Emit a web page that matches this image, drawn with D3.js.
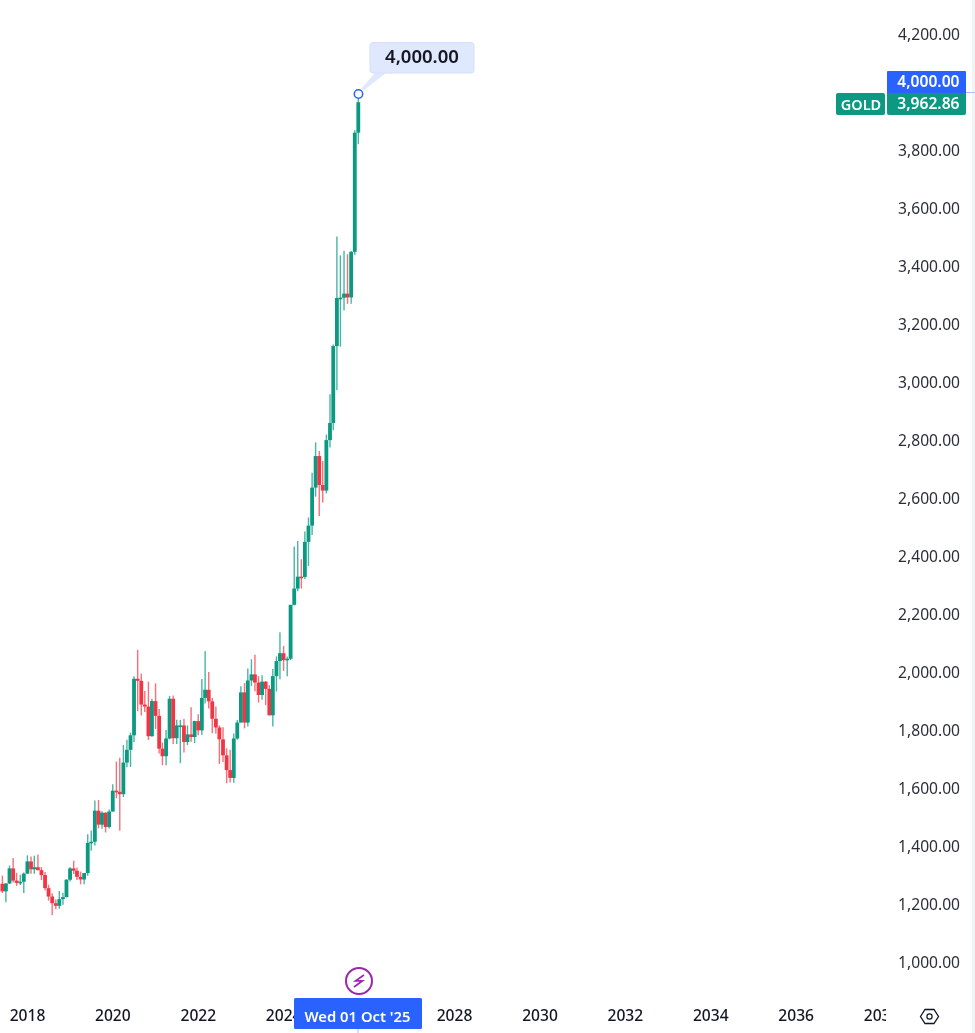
<!DOCTYPE html>
<html><head><meta charset="utf-8">
<script src="https://cdn.jsdelivr.net/npm/d3@7"></script>
<style>html,body{margin:0;padding:0;background:#fff;overflow:hidden}svg{display:block}text{font-family:"Noto Sans",sans-serif}</style>
</head><body><svg id="c" width="975" height="1033"></svg>
<script>
const startMonth = "2017-06";
const opens  = [1268,1242,1269,1321,1279,1271,1275,1303,1345,1318,1325,1315,1298,1253,1224,1201,1192,1215,1222,1282,1321,1313,1292,1283,1305,1409,1413,1520,1472,1513,1464,1517,1589,1585,1577,1686,1730,1780,1975,1968,1886,1879,1777,1898,1847,1734,1708,1769,1906,1770,1814,1814,1757,1783,1774,1829,1797,1909,1937,1897,1837,1807,1766,1711,1660,1633,1769,1824,1928,1824,1969,1990,1962,1919,1965,1940,1849,1984,2036,2063,2039,2044,2230,2286,2327,2326,2447,2503,2634,2743,2643,2624,2798,2857,3122,3288,3289,3303,3290,3447,3858];
const highs  = [1296,1270,1331,1357,1306,1299,1307,1366,1362,1365,1369,1326,1309,1265,1235,1214,1243,1237,1284,1326,1347,1324,1310,1304,1439,1452,1555,1557,1518,1515,1524,1611,1689,1703,1747,1765,1789,1984,2075,1992,1933,1965,1906,1959,1871,1755,1798,1916,1917,1834,1833,1836,1814,1877,1830,1853,1974,2070,1998,1909,1879,1814,1808,1735,1730,1786,1833,1949,1960,2010,2042,2058,1984,1987,1967,1953,2009,2052,2135,2088,2052,2222,2431,2450,2387,2483,2531,2685,2790,2760,2726,2817,2956,3128,3500,3435,3451,3439,3450,3866,3975];
const lows   = [1236,1204,1267,1272,1261,1264,1236,1302,1303,1303,1315,1281,1245,1210,1160,1180,1182,1196,1221,1276,1302,1281,1266,1266,1296,1382,1400,1459,1458,1445,1459,1517,1563,1451,1567,1670,1671,1757,1863,1848,1860,1764,1775,1802,1717,1677,1677,1766,1750,1750,1684,1721,1746,1758,1753,1780,1781,1890,1872,1787,1785,1681,1688,1615,1617,1616,1765,1824,1804,1810,1950,1932,1893,1903,1884,1848,1810,1931,1973,2002,1984,2039,2228,2277,2286,2319,2364,2471,2603,2536,2583,2614,2772,2832,2970,3120,3245,3268,3268,3436,3818];
const closes = [1242,1269,1321,1279,1271,1275,1303,1345,1318,1325,1315,1298,1253,1224,1201,1192,1215,1222,1282,1321,1313,1292,1283,1305,1409,1413,1520,1472,1513,1464,1517,1589,1585,1577,1686,1730,1780,1975,1968,1886,1879,1777,1898,1847,1734,1708,1769,1906,1770,1814,1814,1757,1783,1774,1829,1797,1909,1937,1897,1837,1807,1766,1711,1660,1633,1769,1824,1928,1824,1969,1990,1962,1919,1965,1940,1849,1984,2036,2063,2039,2044,2230,2286,2327,2326,2447,2503,2634,2743,2643,2624,2798,2857,3122,3288,3289,3303,3290,3447,3858,3962.86];
const priceTicks = [1000,1200,1400,1600,1800,2000,2200,2400,2600,2800,3000,3200,3400,3600,3800,4200];
const yearTicks = [2018,2020,2022,2024,2028,2030,2032,2034,2036,2038];
const targetValue = 4000, lastValue = 3962.86, symbol = "GOLD", dateLabel = "Wed 01 Oct '25";
const up = "#089981", down = "#F23645", blue = "#2962FF";

const [sy, sm] = startMonth.split("-").map(Number);
const dates = opens.map((_, i) => new Date(Date.UTC(sy, sm - 1 + i, 1)));
const x = d3.scaleUtc().domain([Date.UTC(2018,0,1), Date.UTC(2028,0,1)]).range([27.4, 454.4]);
const y = d3.scaleLinear().domain([1000, 4200]).range([961.5, 33.5]);
const svg = d3.select("#c");
svg.append("defs").append("clipPath").attr("id","plot").append("rect").attr("x",0).attr("y",0).attr("width",886).attr("height",1033);
const soft = svg.append("filter").attr("id","soft");
soft.append("feGaussianBlur").attr("stdDeviation",0.35);
const root = svg.append("g").attr("filter","url(#soft)");

// right edge strip
root.append("rect").attr("x",972).attr("y",0).attr("width",3).attr("height",1033).attr("fill","#f2f3f5");

// candles
const g = root.append("g").attr("clip-path","url(#plot)");
const idx = d3.range(opens.length);
const col = i => closes[i] >= opens[i] ? up : down;
g.selectAll("line.w").data(idx).join("line").attr("class","w")
 .attr("x1",i=>x(dates[i])).attr("x2",i=>x(dates[i]))
 .attr("y1",i=>y(highs[i])).attr("y2",i=>y(lows[i]))
 .attr("stroke",col).attr("stroke-width",1.4).attr("stroke-opacity",0.72);
g.selectAll("rect.b").data(idx).join("rect").attr("class","b")
 .attr("x",i=>x(dates[i])-1.9).attr("width",3.8)
 .attr("y",i=>y(Math.max(opens[i],closes[i])))
 .attr("height",i=>Math.max(1.6,Math.abs(y(opens[i])-y(closes[i]))))
 .attr("fill",col);

// axes
const yAxis = d3.axisRight(y).tickValues(priceTicks).tickSize(0).tickPadding(0).tickFormat(d3.format(",.2f"));
const ya = root.append("g").attr("transform","translate(960,0.8)").call(yAxis);
ya.select(".domain").remove();
ya.selectAll("text").attr("x",0).attr("text-anchor","end").attr("fill","#2a2e39").attr("font-size",15.6).attr("dy","0.35em");
const xAxis = d3.axisBottom(x).tickValues(yearTicks.map(v=>Date.UTC(v,0,1))).tickSize(0).tickPadding(0).tickFormat(d=>new Date(d).getUTCFullYear());
const xa = root.append("g").attr("clip-path","url(#plot)").append("g").attr("transform","translate(-0.4,1015.5)").call(xAxis);
xa.select(".domain").remove();
xa.selectAll("text").attr("y",0).attr("dy","0.35em").attr("fill","#131722").attr("font-size",15.6).attr("font-weight",500);

// last price labels
const last = dates[dates.length-1];
root.append("line").attr("x1",966).attr("x2",975).attr("y1",92.5).attr("y2",92.5).attr("stroke","#a9c0ff");
root.append("path").attr("d","M887,72a1,1 0 0 1 1,-1H965a1,1 0 0 1 1,1V93H887Z").attr("fill",blue);
root.append("path").attr("d","M887,93H966V113a2,2 0 0 1 -2,2H889a2,2 0 0 1 -2,-2Z").attr("fill",up);
root.append("rect").attr("x",836).attr("y",93).attr("width",49).attr("height",22).attr("rx",2).attr("fill",up);
const lab=(t,xx,yy,a,s)=>root.append("text").attr("x",xx).attr("y",yy).attr("dy","0.35em").attr("text-anchor",a).attr("fill","#fff").attr("font-size",s).attr("font-weight",600).text(t);
lab(d3.format(",.2f")(targetValue),959.5,81.5,"end",15.6);
lab(d3.format(",.2f")(lastValue),959.5,104,"end",15.6);
lab(symbol,861,104.5,"middle",14.5);

// callout
const cx = x(last)+0.2, cy = 94;
root.append("path").attr("d",`M375,73 L386,73 L${cx+5},${cy-3.5} L${cx+3},${cy-5.5} Z`).attr("fill","#dfe8fd");
root.append("rect").attr("x",370).attr("y",42.5).attr("width",104).attr("height",30.5).attr("rx",3).attr("fill","#dfe8fd").attr("stroke","#d3dffc");
root.append("text").attr("x",422).attr("y",57).attr("dy","0.35em").attr("text-anchor","middle").attr("fill","#131722").attr("font-size",18.5).attr("font-weight",600).text(d3.format(",.2f")(targetValue));
root.append("circle").attr("cx",cx).attr("cy",cy).attr("r",4.2).attr("fill","#fff").attr("stroke",blue).attr("stroke-width",1.5);

// date label
root.append("rect").attr("x",294).attr("y",998).attr("width",128).attr("height",31).attr("rx",1.5).attr("fill",blue);
root.append("text").attr("x",357.5).attr("y",1016.5).attr("dy","0.35em").attr("text-anchor","middle").attr("fill","#fff").attr("font-size",14.8).attr("font-weight",600).text(dateLabel);
root.append("line").attr("x1",358).attr("x2",358).attr("y1",1029).attr("y2",1033).attr("stroke","#a9c0ff");

// event marker
root.append("circle").attr("cx",359).attr("cy",981).attr("r",13).attr("fill","#fff").attr("stroke","#9c27b0").attr("stroke-width",2);
root.append("path").attr("d","M364,975 L355.5,980.8 L362.5,980.8 L354,987").attr("fill","none").attr("stroke","#9c27b0").attr("stroke-width",1.7);

// settings icon
root.append("path").attr("d","M920.5,1016.5 L925,1009.5 L934,1009.5 L938.5,1016.5 L934,1023.5 L925,1023.5 Z").attr("fill","none").attr("stroke","#131722").attr("stroke-width",1.3);
root.append("circle").attr("cx",929.5).attr("cy",1016.5).attr("r",2.6).attr("fill","none").attr("stroke","#131722").attr("stroke-width",1.2);
</script></body></html>
